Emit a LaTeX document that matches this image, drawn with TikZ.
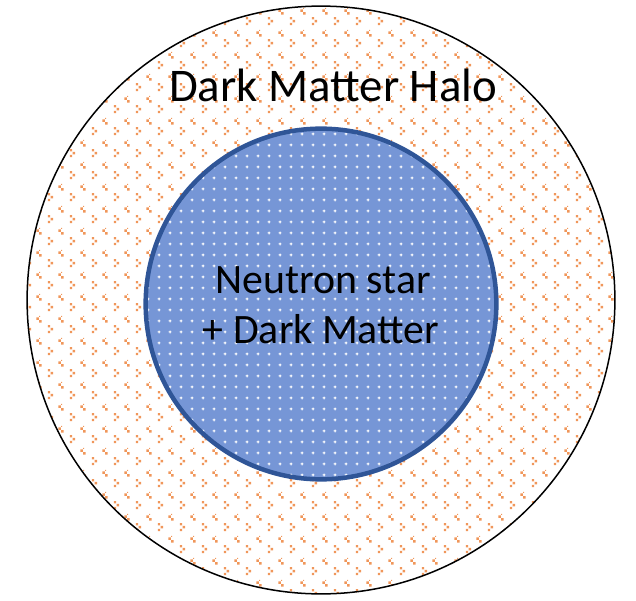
\documentclass[tikz,border=0pt]{standalone}
\usepackage{fontspec}
\setmainfont{Carlito}
\usepackage{tikz}
\usetikzlibrary{patterns.meta}
\definecolor{halodot}{RGB}{240,150,90}
\definecolor{coreblue}{RGB}{118,150,214}
\definecolor{coreline}{RGB}{47,85,151}

% little orange chevrons, staggered
\tikzdeclarepattern{
  name=halochevrons,
  bottom left={(0bp,0bp)}, top right={(22bp,22bp)},
  tile size={(22bp,22bp)},
  code={
    \fill (4bp,4bp) rectangle ++(2.5bp,2.5bp)
          (7bp,7bp) rectangle ++(2.5bp,2.5bp)
          (4bp,10bp) rectangle ++(2.5bp,2.5bp);
    \fill (18bp,15bp) rectangle ++(2.5bp,2.5bp)
          (15bp,18bp) rectangle ++(2.5bp,2.5bp)
          (18bp,21bp) rectangle ++(1bp,1bp);
  }
}
% white specks on the blue core
\tikzdeclarepattern{
  name=corespecks,
  bottom left={(0bp,0bp)}, top right={(11bp,11bp)},
  tile size={(11bp,11bp)},
  code={
    \fill (4bp,5bp) rectangle ++(3bp,1bp)
          (5bp,4bp) rectangle ++(1bp,3bp);
  }
}

\begin{document}
\begin{tikzpicture}[x=1bp, y=-1bp, every node/.style={inner sep=0pt}]
  \useasboundingbox (0,0) rectangle (636,601);
  \node[circle, minimum size=590, draw=black, line width=1.5bp,
        pattern=halochevrons, pattern color=halodot] (halo) at (321,300) {};
  \node[circle, minimum size=352, draw=coreline, line width=4.5bp,
        preaction={fill=coreblue}, pattern=corespecks, pattern color=white] (core) at (321,304) {};

  \node[anchor=base, font=\fontsize{47}{56}\selectfont] (halolabel) at (333,102) {Dark Matter Halo};
  \node[anchor=base, font=\fontsize{42}{50}\selectfont] (corelabel) at (323,293) {Neutron star};
  \node[anchor=base, font=\fontsize{42}{50}\selectfont] (dmlabel) at (321,343) {+ Dark Matter};
\end{tikzpicture}
\end{document}
